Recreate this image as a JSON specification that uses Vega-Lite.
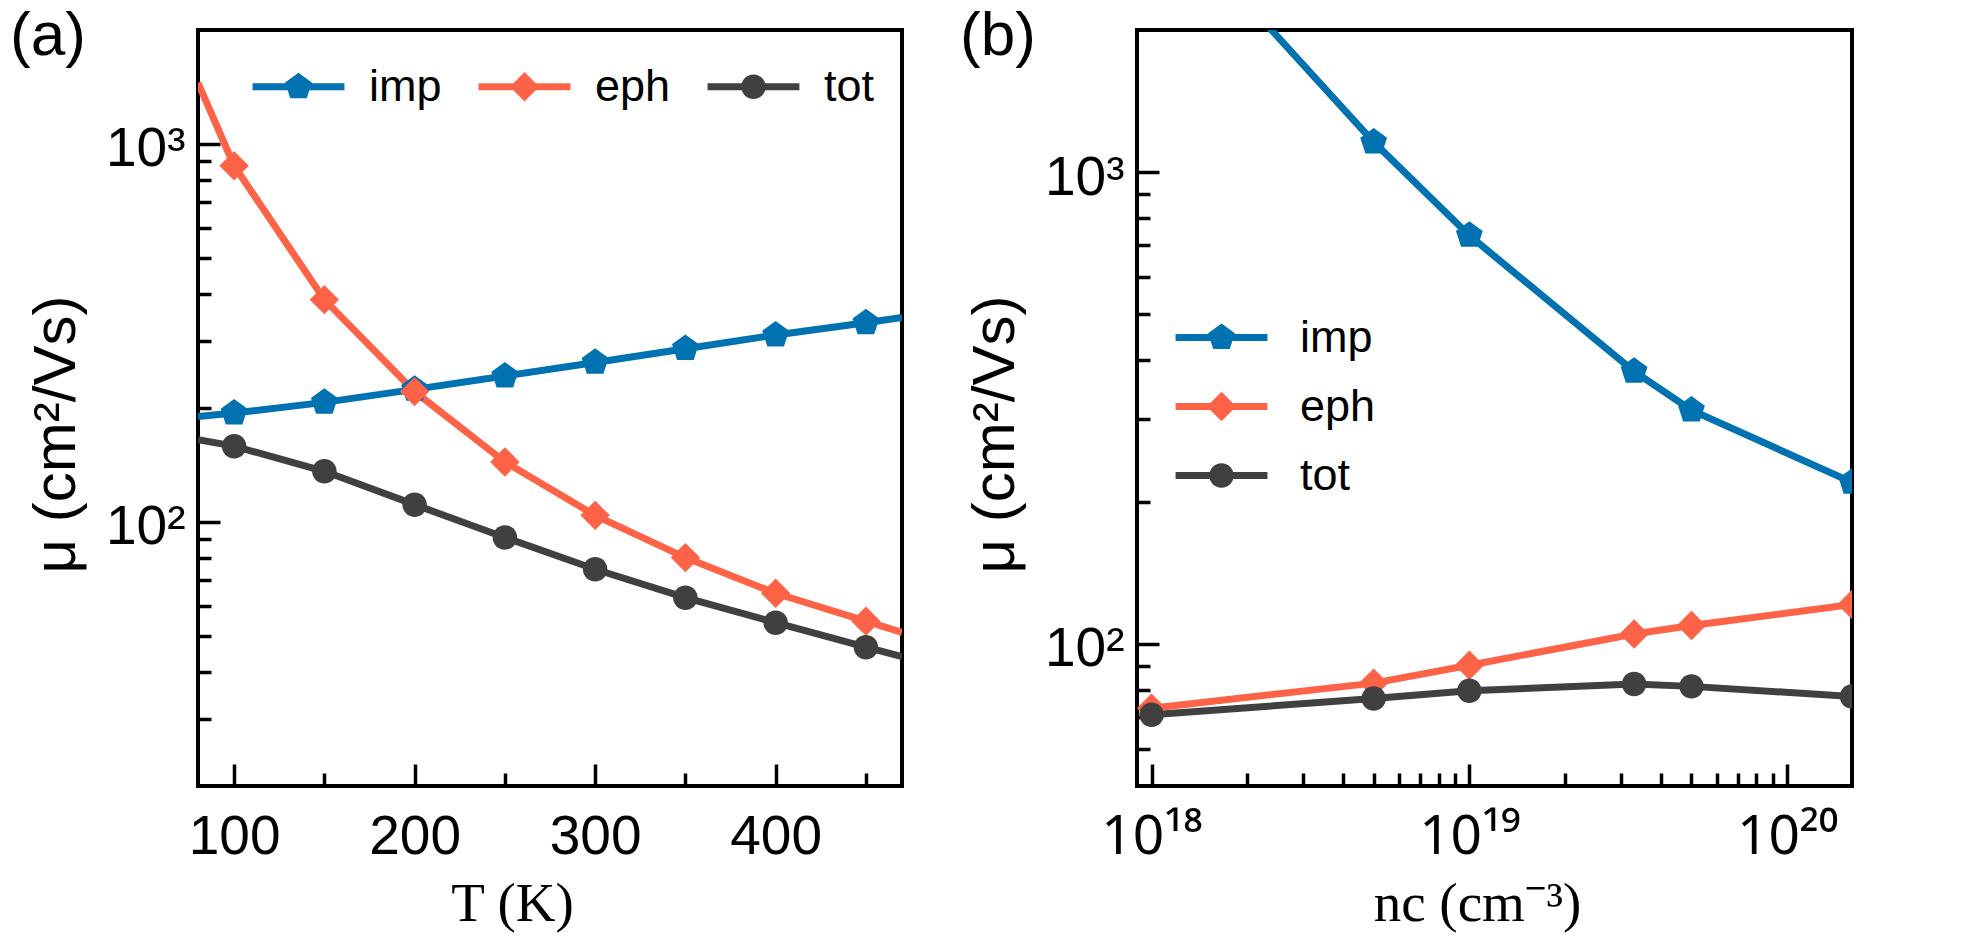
{
  "$schema": "https://vega.github.io/schema/vega-lite/v6.json",
  "background": "white",
  "padding": {"left": 8, "top": 3, "right": 5, "bottom": 5},
  "bounds": "flush",
  "spacing": 235,
  "datasets": {
    "a": [
      {"T": 80, "series": "imp", "mu": 190}, {"T": 100, "series": "imp", "mu": 194}, {"T": 150, "series": "imp", "mu": 207},
      {"T": 200, "series": "imp", "mu": 224}, {"T": 250, "series": "imp", "mu": 243}, {"T": 300, "series": "imp", "mu": 264},
      {"T": 350, "series": "imp", "mu": 287}, {"T": 400, "series": "imp", "mu": 312}, {"T": 450, "series": "imp", "mu": 336},
      {"T": 470, "series": "imp", "mu": 347},
      {"T": 80, "series": "eph", "mu": 1450}, {"T": 100, "series": "eph", "mu": 875}, {"T": 150, "series": "eph", "mu": 387},
      {"T": 200, "series": "eph", "mu": 221}, {"T": 250, "series": "eph", "mu": 144}, {"T": 300, "series": "eph", "mu": 104},
      {"T": 350, "series": "eph", "mu": 80.4}, {"T": 400, "series": "eph", "mu": 64.7}, {"T": 450, "series": "eph", "mu": 54.6},
      {"T": 470, "series": "eph", "mu": 51},
      {"T": 80, "series": "tot", "mu": 165}, {"T": 100, "series": "tot", "mu": 158.5}, {"T": 150, "series": "tot", "mu": 136},
      {"T": 200, "series": "tot", "mu": 111}, {"T": 250, "series": "tot", "mu": 90.9}, {"T": 300, "series": "tot", "mu": 74.9},
      {"T": 350, "series": "tot", "mu": 63}, {"T": 400, "series": "tot", "mu": 54.1}, {"T": 450, "series": "tot", "mu": 46.6},
      {"T": 470, "series": "tot", "mu": 44}
    ],
    "b": [
      {"n": 1e18, "series": "imp", "mu": 3800}, {"n": 5e18, "series": "imp", "mu": 1158}, {"n": 1e19, "series": "imp", "mu": 734},
      {"n": 3.3e19, "series": "imp", "mu": 378}, {"n": 5e19, "series": "imp", "mu": 313}, {"n": 1.6e20, "series": "imp", "mu": 220},
      {"n": 1e18, "series": "eph", "mu": 73.1}, {"n": 5e18, "series": "eph", "mu": 82.6}, {"n": 1e19, "series": "eph", "mu": 90.1},
      {"n": 3.3e19, "series": "eph", "mu": 105}, {"n": 5e19, "series": "eph", "mu": 109.4}, {"n": 1.6e20, "series": "eph", "mu": 121.2},
      {"n": 1e18, "series": "tot", "mu": 70.8}, {"n": 5e18, "series": "tot", "mu": 76.6}, {"n": 1e19, "series": "tot", "mu": 79.6},
      {"n": 3.3e19, "series": "tot", "mu": 82.2}, {"n": 5e19, "series": "tot", "mu": 81.3}, {"n": 1.6e20, "series": "tot", "mu": 77.4}
    ]
  },
  "config": {
    "view": {"stroke": "black", "strokeWidth": 4},
    "axis": {
      "grid": false, "domain": false, "offset": 0,
      "labelFont": "Liberation Sans, Noto Sans, sans-serif", "labelFontSize": 55, "labelColor": "black",
      "labelFlush": false, "labelOverlap": false,
      "tickColor": "black", "tickWidth": 3.5,
      "titleFontSize": 55, "titleColor": "black", "titleFontWeight": "normal"
    },
    "legend": {
      "padding": 0, "offset": 0, "labelFont": "Liberation Sans", "labelFontSize": 45, "labelColor": "black", "labelLimit": 0,
      "symbolStrokeWidth": 0, "symbolOpacity": 1, "symbolSize": 600
    }
  },
  "resolve": {
    "scale": {"x": "independent", "y": "independent", "color": "independent", "shape": "independent"},
    "legend": {"color": "independent", "shape": "independent"}
  },
  "hconcat": [
    {
      "width": 704, "height": 756,
      "title": {"text": "(a)", "anchor": "start", "frame": "group", "dx": -188, "dy": 58, "offset": -29, "baseline": "alphabetic",
                "font": "Liberation Sans", "fontSize": 62, "fontWeight": "normal", "color": "black"},
      "data": {"name": "a"},
      "resolve": {"axis": {"x": "independent", "y": "independent"}},
      "layer": [
        {
          "mark": {"type": "line", "strokeWidth": 7, "clip": true},
          "encoding": {
            "x": {"field": "T", "type": "quantitative",
                  "scale": {"domain": [80, 470], "nice": false, "zero": false},
                  "axis": {"orient": "bottom", "values": [100, 200, 300, 400], "tickSize": -22, "labelPadding": 46,
                           "title": "T (K)", "titleFont": "Liberation Serif", "titleX": 314, "titleY": 134,
                           "titleBaseline": "alphabetic", "titleAlign": "center"}},
            "y": {"field": "mu", "type": "quantitative",
                  "scale": {"type": "log", "domain": [20, 2000], "nice": false},
                  "axis": {"orient": "left", "values": [100, 1000], "tickSize": -22, "labelPadding": 35, "labelOffset": 5,
                           "labelExpr": "datum.value < 500 ? '10²' : '10³'",
                           "title": "μ (cm²/Vs)", "titleFont": "Liberation Sans", "titleFontSize": 60, "titleX": -124, "titleY": 404,
                           "titleAngle": 270, "titleBaseline": "alphabetic", "titleAlign": "center"}},
            "color": {"field": "series", "type": "nominal",
                      "scale": {"domain": ["imp", "eph", "tot"], "range": ["#0072B2", "#FF6347", "#404040"]},
                      "legend": {"orient": "none", "legendX": 56, "legendY": 34, "direction": "horizontal", "title": null,
                                 "symbolOffset": 22, "labelOffset": 48, "columnPadding": 36, "labelBaseline": "middle"}}
          }
        },
        {
          "transform": [{"filter": "datum.series == 'imp' && datum.T % 50 == 0"}],
          "mark": {"type": "point", "filled": true, "opacity": 1, "size": 600, "clip": true, "color": "#0072B2",
                   "shape": "M0,-1.15L1.094,-0.355L0.676,0.93L-0.676,0.93L-1.094,-0.355Z"},
          "encoding": {
            "x": {"field": "T", "type": "quantitative",
                  "axis": {"orient": "bottom", "values": [150, 250, 350, 450], "tickSize": -13, "labels": false, "title": null}},
            "y": {"field": "mu", "type": "quantitative",
                  "axis": {"orient": "left", "values": [30, 40, 50, 60, 70, 80, 90, 200, 300, 400, 500, 600, 700, 800, 900],
                           "tickSize": -13, "labels": false, "title": null}}
          }
        },
        {
          "transform": [{"filter": "datum.series == 'eph' && datum.T % 50 == 0"}],
          "mark": {"type": "point", "filled": true, "opacity": 1, "size": 600, "clip": true, "color": "#FF6347",
                   "shape": "M0,-1.2L1.2,0L0,1.2L-1.2,0Z"},
          "encoding": {
            "x": {"field": "T", "type": "quantitative", "axis": null},
            "y": {"field": "mu", "type": "quantitative", "axis": null}
          }
        },
        {
          "transform": [{"filter": "datum.series == 'tot' && datum.T % 50 == 0"}],
          "mark": {"type": "point", "filled": true, "opacity": 1, "size": 600, "clip": true, "color": "#404040",
                   "shape": "M1,0A1,1,0,1,1,-1,0A1,1,0,1,1,1,0Z"},
          "encoding": {
            "x": {"field": "T", "type": "quantitative", "axis": null},
            "y": {"field": "mu", "type": "quantitative", "axis": null}
          }
        },
        {
          "transform": [{"filter": "false"}],
          "mark": {"type": "point", "filled": true, "opacity": 1},
          "encoding": {
            "x": {"field": "T", "type": "quantitative", "axis": null},
            "y": {"field": "mu", "type": "quantitative", "axis": null},
            "color": {"field": "series", "type": "nominal",
                      "legend": {"orient": "none", "legendX": 56, "legendY": 34, "direction": "horizontal", "title": null,
                                 "symbolOffset": 22, "labelOffset": 48, "columnPadding": 36, "labelBaseline": "middle"}},
            "shape": {"field": "series", "type": "nominal",
                      "scale": {"domain": ["imp", "eph", "tot"],
                                "range": ["M-3.75,-0.286L3.75,-0.286L3.75,0.286L-3.75,0.286ZM0,-1.15L1.094,-0.355L0.676,0.93L-0.676,0.93L-1.094,-0.355Z",
                                          "M-3.75,-0.286L3.75,-0.286L3.75,0.286L-3.75,0.286ZM0,-1.2L1.2,0L0,1.2L-1.2,0Z",
                                          "M-3.75,-0.286L3.75,-0.286L3.75,0.286L-3.75,0.286ZM1,0A1,1,0,1,1,-1,0A1,1,0,1,1,1,0Z"]},
                      "legend": {"orient": "none", "legendX": 56, "legendY": 34, "direction": "horizontal", "title": null,
                                 "symbolOffset": 22, "labelOffset": 48, "columnPadding": 36, "labelBaseline": "middle"}}
          }
        }
      ]
    },
    {
      "width": 715, "height": 756,
      "title": {"text": "(b)", "anchor": "start", "frame": "group", "dx": -177, "dy": 58, "offset": -29, "baseline": "alphabetic",
                "font": "Liberation Sans", "fontSize": 62, "fontWeight": "normal", "color": "black"},
      "data": {"name": "b"},
      "resolve": {"axis": {"x": "independent", "y": "independent"}},
      "layer": [
        {
          "mark": {"type": "line", "strokeWidth": 7, "clip": true},
          "encoding": {
            "x": {"field": "n", "type": "quantitative",
                  "scale": {"type": "log", "domain": [9e17, 1.6e20], "nice": false},
                  "axis": {"orient": "bottom", "values": [1e18, 1e19, 1e20], "tickSize": -22, "labelPadding": 46,
                           "labelFont": "Noto Sans",
                           "labelExpr": "datum.value < 5e18 ? '10¹⁸' : datum.value < 5e19 ? '10¹⁹' : '10²⁰'",
                           "title": "nc (cm⁻³)", "titleFont": "Liberation Serif, Noto Serif, DejaVu Serif", "titleX": 340, "titleY": 134,
                           "titleBaseline": "alphabetic", "titleAlign": "center"}},
            "y": {"field": "mu", "type": "quantitative",
                  "scale": {"type": "log", "domain": [50, 2000], "nice": false},
                  "axis": {"orient": "left", "values": [100, 1000], "tickSize": -22, "labelPadding": 35, "labelOffset": 5,
                           "labelExpr": "datum.value < 500 ? '10²' : '10³'",
                           "title": "μ (cm²/Vs)", "titleFont": "Liberation Sans", "titleFontSize": 60, "titleX": -124, "titleY": 404,
                           "titleAngle": 270, "titleBaseline": "alphabetic", "titleAlign": "center"}},
            "color": {"field": "series", "type": "nominal",
                      "scale": {"domain": ["imp", "eph", "tot"], "range": ["#0072B2", "#FF6347", "#404040"]},
                      "legend": {"orient": "none", "legendX": 40, "legendY": 285, "direction": "vertical", "title": null,
                                 "symbolOffset": 22, "labelOffset": 56, "rowPadding": 23, "labelBaseline": "middle"}}
          }
        },
        {
          "transform": [{"filter": "datum.series == 'imp'"}],
          "mark": {"type": "point", "filled": true, "opacity": 1, "size": 600, "clip": true, "color": "#0072B2",
                   "shape": "M0,-1.15L1.094,-0.355L0.676,0.93L-0.676,0.93L-1.094,-0.355Z"},
          "encoding": {
            "x": {"field": "n", "type": "quantitative",
                  "axis": {"orient": "bottom",
                           "values": [2e18, 3e18, 4e18, 5e18, 6e18, 7e18, 8e18, 9e18, 2e19, 3e19, 4e19, 5e19, 6e19, 7e19, 8e19, 9e19],
                           "tickSize": -13, "labels": false, "title": null}},
            "y": {"field": "mu", "type": "quantitative",
                  "axis": {"orient": "left", "values": [60, 70, 80, 90, 200, 300, 400, 500, 600, 700, 800, 900],
                           "tickSize": -13, "labels": false, "title": null}}
          }
        },
        {
          "transform": [{"filter": "datum.series == 'eph'"}],
          "mark": {"type": "point", "filled": true, "opacity": 1, "size": 600, "clip": true, "color": "#FF6347",
                   "shape": "M0,-1.2L1.2,0L0,1.2L-1.2,0Z"},
          "encoding": {
            "x": {"field": "n", "type": "quantitative", "axis": null},
            "y": {"field": "mu", "type": "quantitative", "axis": null}
          }
        },
        {
          "transform": [{"filter": "datum.series == 'tot'"}],
          "mark": {"type": "point", "filled": true, "opacity": 1, "size": 600, "clip": true, "color": "#404040",
                   "shape": "M1,0A1,1,0,1,1,-1,0A1,1,0,1,1,1,0Z"},
          "encoding": {
            "x": {"field": "n", "type": "quantitative", "axis": null},
            "y": {"field": "mu", "type": "quantitative", "axis": null}
          }
        },
        {
          "transform": [{"filter": "false"}],
          "mark": {"type": "point", "filled": true, "opacity": 1},
          "encoding": {
            "x": {"field": "n", "type": "quantitative", "axis": null},
            "y": {"field": "mu", "type": "quantitative", "axis": null},
            "color": {"field": "series", "type": "nominal",
                      "legend": {"orient": "none", "legendX": 40, "legendY": 285, "direction": "vertical", "title": null,
                                 "symbolOffset": 22, "labelOffset": 56, "rowPadding": 23, "labelBaseline": "middle"}},
            "shape": {"field": "series", "type": "nominal",
                      "scale": {"domain": ["imp", "eph", "tot"],
                                "range": ["M-3.75,-0.286L3.75,-0.286L3.75,0.286L-3.75,0.286ZM0,-1.15L1.094,-0.355L0.676,0.93L-0.676,0.93L-1.094,-0.355Z",
                                          "M-3.75,-0.286L3.75,-0.286L3.75,0.286L-3.75,0.286ZM0,-1.2L1.2,0L0,1.2L-1.2,0Z",
                                          "M-3.75,-0.286L3.75,-0.286L3.75,0.286L-3.75,0.286ZM1,0A1,1,0,1,1,-1,0A1,1,0,1,1,1,0Z"]},
                      "legend": {"orient": "none", "legendX": 40, "legendY": 285, "direction": "vertical", "title": null,
                                 "symbolOffset": 22, "labelOffset": 56, "rowPadding": 23, "labelBaseline": "middle"}}
          }
        }
      ]
    }
  ]
}
